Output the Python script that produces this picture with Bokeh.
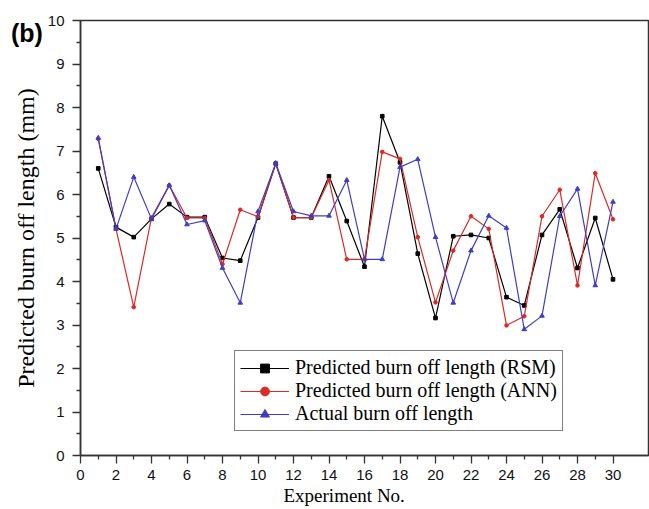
from bokeh.plotting import figure
from bokeh.models import FixedTicker, Legend, LegendItem, Range1d, Title, Div
from bokeh.embed import file_html
from bokeh.resources import INLINE

experiment = list(range(1, 31))
rsm = [6.60, 5.25, 5.02, 5.44, 5.78, 5.48, 5.48, 4.54, 4.48, 5.47,
       6.71, 5.47, 5.47, 6.42, 5.39, 4.34, 7.80, 6.74, 4.64, 3.16,
       5.04, 5.07, 5.00, 3.64, 3.45, 5.07, 5.66, 4.31, 5.46, 4.05]
ann = [7.28, 5.21, 3.41, 5.47, 6.21, 5.46, 5.46, 4.40, 5.65, 5.49,
       6.71, 5.47, 5.47, 6.33, 4.51, 4.51, 6.98, 6.82, 5.02, 3.52,
       4.71, 5.50, 5.21, 2.99, 3.20, 5.50, 6.11, 3.91, 6.49, 5.43]
actual = [7.30, 5.21, 6.40, 5.44, 6.21, 5.31, 5.40, 4.31, 3.51, 5.61,
          6.72, 5.61, 5.51, 5.51, 6.33, 4.51, 4.51, 6.63, 6.81, 5.02,
          3.51, 4.71, 5.51, 5.23, 2.90, 3.21, 5.50, 6.13, 3.91, 5.83]
labels = ["Predicted burn off length (RSM)",
          "Predicted burn off length (ANN)",
          "Actual burn off length"]
x_major = list(range(0, 31, 2))
x_minor = list(range(1, 30, 2))
y_major = list(range(0, 11))
y_minor = [i + 0.5 for i in range(0, 10)]

p = figure(width=649, height=509, output_backend="svg", toolbar_location=None,
           x_range=Range1d(0, 32), y_range=Range1d(0, 10),
           min_border_left=80, min_border_right=1, min_border_top=20,
           min_border_bottom=54)
p.grid.visible = False
p.outline_line_color = "#333333"
p.outline_line_width = 1.5

for ax in (p.xaxis[0], p.yaxis[0]):
    ax.axis_line_color = "#333333"
    ax.axis_line_width = 1.5
    ax.major_tick_line_color = "#333333"
    ax.minor_tick_line_color = "#333333"
    ax.major_tick_line_width = 1.3
    ax.minor_tick_line_width = 1.3
    ax.major_tick_out = 8
    ax.major_tick_in = 0
    ax.minor_tick_out = 4
    ax.minor_tick_in = 0
    ax.major_label_text_font = "Liberation Sans"
    ax.major_label_text_font_size = "15px"
    ax.major_label_text_color = "#111111"
    ax.axis_label_text_font = "Liberation Serif"
    ax.axis_label_text_font_style = "normal"
    ax.axis_label_text_color = "#000000"

p.xaxis[0].ticker = FixedTicker(ticks=x_major, minor_ticks=x_minor)
p.yaxis[0].ticker = FixedTicker(ticks=y_major, minor_ticks=y_minor)
p.xaxis[0].major_label_standoff = 6
p.yaxis[0].axis_label = "Predicted burn off length (mm)"
p.yaxis[0].axis_label_text_font_size = "24px"
p.yaxis[0].major_label_standoff = 8
p.yaxis[0].axis_label_standoff = 6

xtitle = Title(text="Experiment No.", align="left", offset=203, standoff=0,
               text_font="Liberation Serif", text_font_size="19px",
               text_font_style="normal", text_color="#000000")
p.add_layout(xtitle, "below")

colors = ["#000000", "#d92a26", "#3e3ec4"]
markers = ["square", "circle", "triangle"]
sizes = [3.6, 3.6, 4.6]
items = []
for series, c, m, s, lab in zip([rsm, ann, actual], colors, markers, sizes, labels):
    ln = p.line(experiment, series, line_color=c, line_width=1.2)
    sc = p.scatter(experiment, series, marker=m, size=s, fill_color=c, line_color=c)
    items.append(LegendItem(label=lab, renderers=[ln, sc]))

legend = Legend(items=items, location=(154, 24))
legend.border_line_color = "#000000"
legend.border_line_width = 1.2
legend.background_fill_alpha = 1
legend.label_text_font = "Liberation Serif"
legend.label_text_font_size = "20px"
legend.label_text_line_height = 1.0
legend.label_text_color = "#000000"
legend.padding = 5
legend.spacing = 0
legend.margin = 0
legend.glyph_width = 49
legend.glyph_height = 22
legend.label_height = 22
legend.label_standoff = 6
p.add_layout(legend, "center")

tag = Div(text="(b)", styles={
    "position": "absolute", "left": "11px", "top": "21px",
    "font-family": "Liberation Sans", "font-size": "25px",
    "font-weight": "bold", "color": "#000000", "line-height": "25px",
    "z-index": "10", "margin": "0px", "padding": "0px",
})

open("out.html", "w").write(file_html([p, tag], INLINE))
